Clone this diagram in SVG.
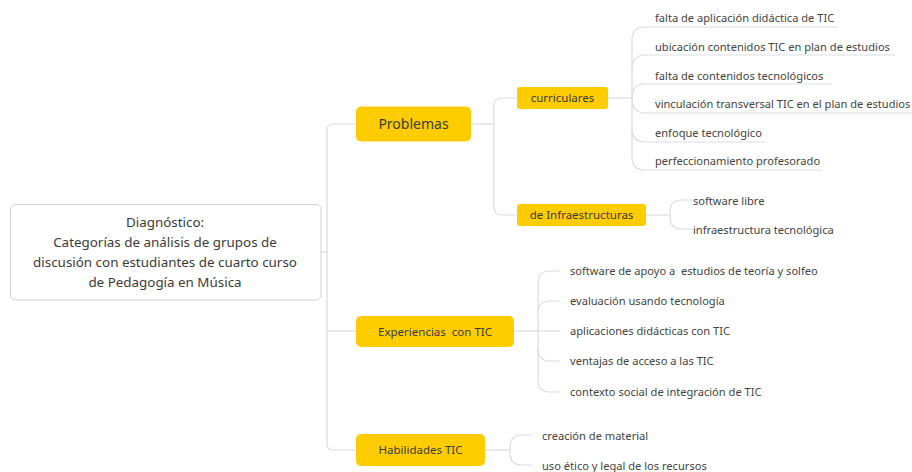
<svg xmlns="http://www.w3.org/2000/svg" width="912" height="472" viewBox="0 0 912 472">
  <style>
    .conn { fill: none; stroke: #dcdde3; stroke-width: 1.2; }
    .topic { fill: #ffcc00; }
    .t { font-family: "Noto Sans", "Open Sans", sans-serif; fill: #3b3b3b; }
    .root-t { font-size: 13.4px; text-anchor: middle; }
    .main-t { font-size: 14px; text-anchor: middle; }
    .sub-t { font-size: 11.5px; text-anchor: middle; }
    .leaf-t { font-size: 11.1px; fill: #444; }
  </style>
  <rect width="912" height="472" fill="#ffffff"/>

  <!-- connectors -->
  <g id="connectors">
    <!-- root to main topics -->
    <path class="conn" d="M321 252 H327"/>
    <path class="conn" d="M356 124 H333 Q327 124 327 130 V444 Q327 450 333 450 H356"/>
    <path class="conn" d="M327 331 H356"/>
    <!-- Problemas to subtopics -->
    <path class="conn" d="M471 124 H494"/>
    <path class="conn" d="M517 98 H502 Q494 98 494 106 V207 Q494 215 502 215 H517"/>
    <!-- curriculares to leaves -->
    <path class="conn" d="M608 98 H632"/>
    <path class="conn" d="M645 27 Q632 27 632 40 V157 Q632 170 645 170"/>
    <path class="conn" d="M632 70 Q632 55 645 55"/>
    <path class="conn" d="M632 98 Q632 84 645 84"/>
    <path class="conn" d="M632 98 Q632 113 645 113"/>
    <path class="conn" d="M632 128 Q632 142 645 142"/>
    <path class="conn" d="M645 27 H838"/>
    <path class="conn" d="M645 55 H895"/>
    <path class="conn" d="M645 84 H832"/>
    <path class="conn" d="M645 113 H912"/>
    <path class="conn" d="M645 142 H765"/>
    <path class="conn" d="M645 170 H822"/>
    <!-- de Infraestructuras to leaves -->
    <path class="conn" d="M646 215 H670"/>
    <path class="conn" d="M693 200 H682 Q670 200 670 212 V217 Q670 229 682 229 H693"/>
    <!-- Experiencias to leaves -->
    <path class="conn" d="M514 331 H538"/>
    <path class="conn" d="M560 271 H550 Q538 271 538 283 V380 Q538 392 550 392 H560"/>
    <path class="conn" d="M560 301 H550 Q538 301 538 313"/>
    <path class="conn" d="M538 331 H560"/>
    <path class="conn" d="M538 349 Q538 361 550 361 H560"/>
    <!-- Habilidades to leaves -->
    <path class="conn" d="M485 450 H510"/>
    <path class="conn" d="M532 435 H522 Q510 435 510 447 V453 Q510 465 522 465 H532"/>
  </g>

  <g id="root">
    <rect x="10.5" y="204.5" width="310.5" height="95.5" rx="5" fill="#ffffff" stroke="#d2d2d6" stroke-width="1"/>
    <text class="t root-t" x="165" y="227">Diagnóstico:</text>
    <text class="t root-t" x="165" y="247">Categorías de análisis de grupos de</text>
    <text class="t root-t" x="165" y="267">discusión con estudiantes de cuarto curso</text>
    <text class="t root-t" x="165" y="287">de Pedagogía en Música</text>
  </g>

  <g id="problemas">
    <rect class="topic" x="356" y="106.5" width="115" height="35" rx="5"/>
    <text class="t main-t" x="413.5" y="129">Problemas</text>
  </g>

  <g id="curriculares">
    <rect class="topic" x="517" y="87" width="91" height="22" rx="3"/>
    <text class="t sub-t" x="562.5" y="102">curriculares</text>
  </g>

  <g id="infraestructuras">
    <rect class="topic" x="517" y="204" width="129" height="22" rx="3"/>
    <text class="t sub-t" x="581.5" y="219">de Infraestructuras</text>
  </g>

  <g id="experiencias">
    <rect class="topic" x="356" y="316" width="158" height="31" rx="5"/>
    <text class="t sub-t" x="435" y="335.5" xml:space="preserve">Experiencias  con TIC</text>
  </g>

  <g id="habilidades">
    <rect class="topic" x="356" y="434" width="129" height="32" rx="5"/>
    <text class="t sub-t" x="420.5" y="454">Habilidades TIC</text>
  </g>

  <g id="leaves-curriculares">
    <text class="t leaf-t" x="655" y="22">falta de aplicación didáctica de TIC</text>
    <text class="t leaf-t" x="655" y="51">ubicación contenidos TIC en plan de estudios</text>
    <text class="t leaf-t" x="655" y="80">falta de contenidos tecnológicos</text>
    <text class="t leaf-t" x="655" y="108">vinculación transversal TIC en el plan de estudios</text>
    <text class="t leaf-t" x="655" y="137">enfoque tecnológico</text>
    <text class="t leaf-t" x="655" y="165">perfeccionamiento profesorado</text>
  </g>

  <g id="leaves-infraestructuras">
    <text class="t leaf-t" x="693" y="205">software libre</text>
    <text class="t leaf-t" x="693" y="234">infraestructura tecnológica</text>
  </g>

  <g id="leaves-experiencias">
    <text class="t leaf-t" x="570" y="275" xml:space="preserve">software de apoyo a  estudios de teoría y solfeo</text>
    <text class="t leaf-t" x="570" y="305">evaluación usando tecnología</text>
    <text class="t leaf-t" x="570" y="335">aplicaciones didácticas con TIC</text>
    <text class="t leaf-t" x="570" y="365">ventajas de acceso a las TIC</text>
    <text class="t leaf-t" x="570" y="396">contexto social de integración de TIC</text>
  </g>

  <g id="leaves-habilidades">
    <text class="t leaf-t" x="542" y="440">creación de material</text>
    <text class="t leaf-t" x="542" y="470">uso ético y legal de los recursos</text>
  </g>
</svg>
